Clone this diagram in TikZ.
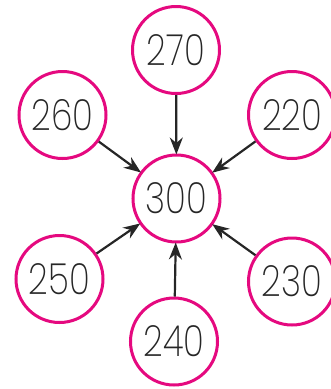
\documentclass[tikz,border=0pt]{standalone}
\usepackage{fontspec}
\newfontfamily\numfont{Poppins ExtraLight}
\usetikzlibrary{arrows.meta}
\tikzset{>={Stealth[length=17pt,width=13pt]}}
\definecolor{ringpink}{HTML}{E5097F}
\newcommand{\nm}[1]{\scalebox{0.8}[1]{#1}}

\begin{document}
\begin{tikzpicture}[x=1pt,y=-1pt,
    num/.style={circle,draw=ringpink,line width=3pt,minimum size=87pt,inner sep=0pt,
        font=\numfont\fontsize{43}{43}\selectfont,text=black!85}]
    \useasboundingbox (0,0) rectangle (331,389);
    \node[num] (c300) at (176.5,198.5) {\nm{300}};
    \node[num] (c270) at (176,50) {\nm{270}};
    \node[num] (c260) at (62.5,115) {\nm{260}};
    \node[num] (c220) at (292,115) {\nm{220}};
    \node[num] (c250) at (59.5,279) {\nm{250}};
    \node[num] (c240) at (174,341.5) {\nm{240}};
    \node[num] (c230) at (292,281.5) {\nm{230}};
    % arrows into the centre
    \foreach \n in {270,260,220,250,240,230}
        \draw[->,line width=2.2pt,black!85,shorten >=-1pt] (c\n) -- (c300);
\end{tikzpicture}
\end{document}
